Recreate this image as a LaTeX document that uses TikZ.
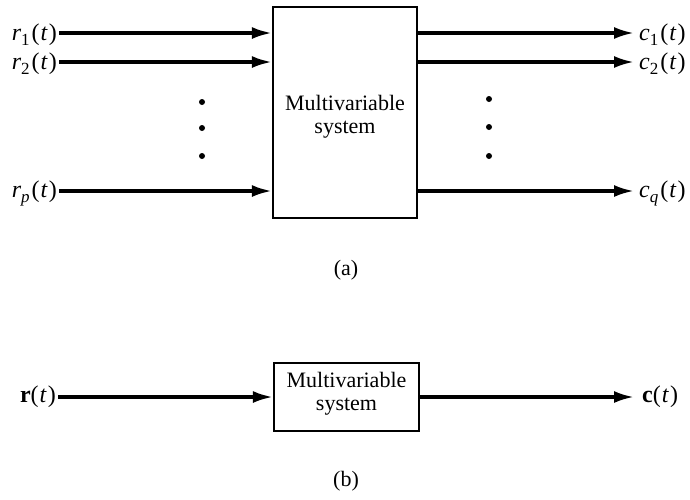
\documentclass[tikz,border=0pt]{standalone}
\usepackage{fontspec}
\setmainfont{Liberation Serif}
\usetikzlibrary{arrows.meta}
% signal label: italic letter, lowered index, then (t)
\newcommand{\sig}[2]{\textit{#1}\raisebox{-0.45ex}{\fontsize{17}{17}\selectfont #2}\kern2pt(\kern1pt\textit{t}\kern1pt)}
% two-line box caption, shifted vertically without changing the box size
\newcommand{\boxtext}[1]{\raisebox{#1}[0pt][0pt]{\begin{tabular}{@{}c@{}}Multivariable\\[-3pt]system\end{tabular}}}
\begin{document}
\begin{tikzpicture}[x=1pt,y=-1pt,
  font=\fontsize{22}{26}\selectfont,
  sysbox/.style={draw,line width=2.2pt,align=center,inner sep=0pt},
  sigarrow/.style={line width=3.2pt,-{Latex[length=20pt,width=12pt]}},
  lbl/.style={inner sep=2pt,font=\fontsize{24}{26}\selectfont},
  dotmark/.style={fill,circle,inner sep=0pt,minimum size=6pt}]
\useasboundingbox (0,0) rectangle (690,499);

% (a) multi-input multi-output block
\node[sysbox,minimum width=144pt,minimum height=211pt] (top) at (345,112.5)
  {\boxtext{-9.5pt}};

\node[lbl,anchor=east] (r1) at (59,35) {\sig{r}{1}};
\node[lbl,anchor=east] (r2) at (59,64) {\sig{r}{2}};
\node[lbl,anchor=east] (rp) at (59,193) {\sig{r}{\textit{p}}};

\node[lbl,anchor=west] (c1) at (637,35) {\sig{c}{1}};
\node[lbl,anchor=west] (c2) at (637,64) {\sig{c}{2}};
\node[lbl,anchor=west] (cq) at (637,193) {\sig{c}{\textit{q}}};

\coordinate (in1) at (59,33);
\coordinate (in2) at (59,62);
\coordinate (inp) at (59,191);
\coordinate (out1) at (634,33);
\coordinate (out2) at (634,62);
\coordinate (outq) at (634,191);

\draw[sigarrow] (in1) -- (in1 -| top.west);
\draw[sigarrow] (in2) -- (in2 -| top.west);
\draw[sigarrow] (inp) -- (inp -| top.west);
\draw[sigarrow] (out1 -| top.east) -- (out1);
\draw[sigarrow] (out2 -| top.east) -- (out2);
\draw[sigarrow] (outq -| top.east) -- (outq);

\node[dotmark] (dl1) at (202,102) {};
\node[dotmark] (dl2) at (202,128) {};
\node[dotmark] (dl3) at (202,156) {};
\node[dotmark] (dr1) at (489,99) {};
\node[dotmark] (dr2) at (489,127) {};
\node[dotmark] (dr3) at (489,156) {};

\node (capa) at (346,270) {(a)};

% (b) vector form
\node[sysbox,minimum width=145pt,minimum height=68pt] (bot) at (346.5,397)
  {\boxtext{-1.5pt}};
\node[lbl,anchor=east] (r) at (58,397) {\textbf{r}(\kern1pt\textit{t}\kern1pt)};
\node[lbl,anchor=west] (c) at (640,397) {\textbf{c}(\kern1pt\textit{t}\kern1pt)};
\coordinate (inb) at (58,397);
\coordinate (outb) at (634,397);
\draw[sigarrow] (inb) -- (bot.west);
\draw[sigarrow] (bot.east) -- (outb);

\node (capb) at (346,481) {(b)};
\end{tikzpicture}
\end{document}
